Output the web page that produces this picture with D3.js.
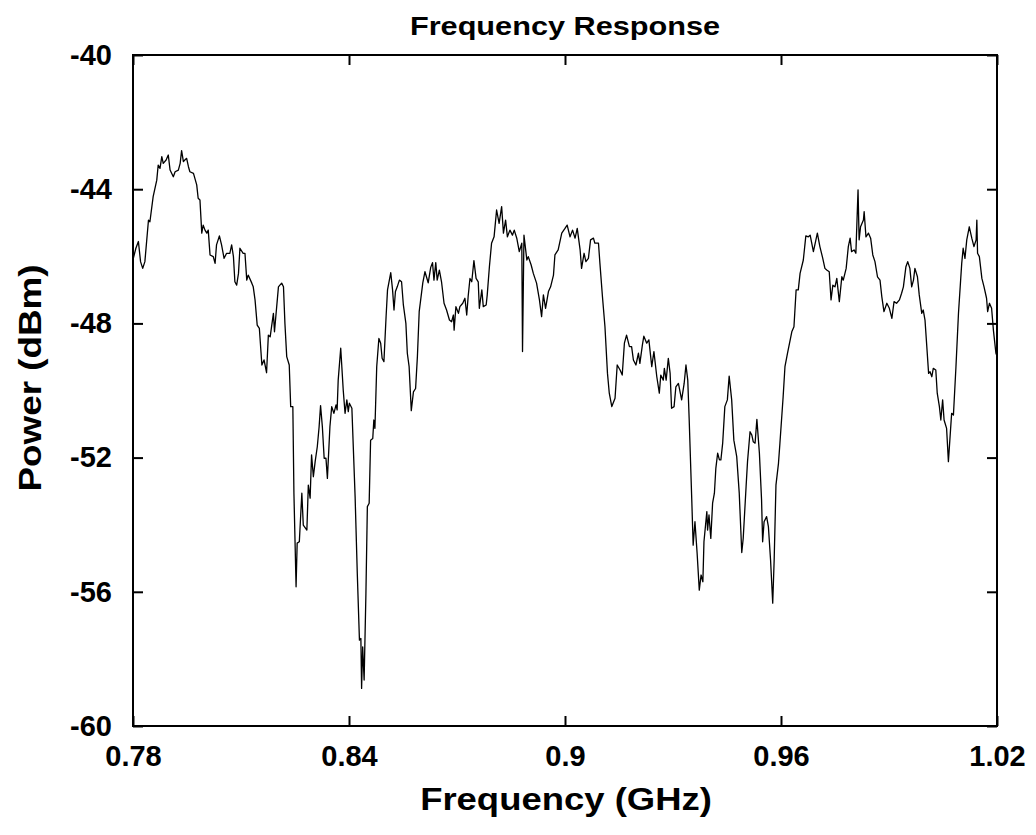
<!DOCTYPE html>
<html>
<head>
<meta charset="utf-8">
<script src="https://cdn.jsdelivr.net/npm/d3@7"></script>
<style>
  body { margin: 0; background: #fff; }
  text { font-family: "Liberation Sans", Arial, sans-serif; font-weight: bold; fill: #000; }
</style>
</head>
<body>
<div id="chart"></div>
<script>
// data (GHz, dBm)
const freqGHz = [
  0.7800, 0.7808, 0.7815, 0.7821, 0.7827, 0.7833, 0.7843, 0.7847, 0.7856, 0.7866,
  0.7870, 0.7875, 0.7880, 0.7884, 0.7892, 0.7898, 0.7903, 0.7912, 0.7917, 0.7926,
  0.7931, 0.7935, 0.7940, 0.7944, 0.7949, 0.7954, 0.7958, 0.7968, 0.7977, 0.7981,
  0.7986, 0.7991, 0.7995, 0.8000, 0.8005, 0.8009, 0.8014, 0.8023, 0.8028, 0.8032,
  0.8040, 0.8046, 0.8053, 0.8060, 0.8069, 0.8074, 0.8079, 0.8083, 0.8088, 0.8093,
  0.8097, 0.8106, 0.8111, 0.8116, 0.8120, 0.8130, 0.8134, 0.8139, 0.8145, 0.8151,
  0.8158, 0.8164, 0.8171, 0.8176, 0.8181, 0.8190, 0.8193, 0.8204, 0.8208, 0.8213,
  0.8218, 0.8222, 0.8227, 0.8234, 0.8238, 0.8244, 0.8247, 0.8253, 0.8256, 0.8262,
  0.8269, 0.8273, 0.8283, 0.8287, 0.8292, 0.8296, 0.8301, 0.8306, 0.8312, 0.8317,
  0.8321, 0.8326, 0.8331, 0.8336, 0.8340, 0.8347, 0.8352, 0.8358, 0.8364, 0.8367,
  0.8370, 0.8377, 0.8384, 0.8389, 0.8394, 0.8398, 0.8401, 0.8408, 0.8417, 0.8423,
  0.8429, 0.8433, 0.8435, 0.8438, 0.8442, 0.8447, 0.8451, 0.8456, 0.8460, 0.8466,
  0.8469, 0.8472, 0.8477, 0.8483, 0.8488, 0.8492, 0.8497, 0.8503, 0.8507, 0.8516,
  0.8521, 0.8525, 0.8529, 0.8534, 0.8540, 0.8546, 0.8551, 0.8558, 0.8562, 0.8567,
  0.8573, 0.8579, 0.8585, 0.8590, 0.8595, 0.8605, 0.8611, 0.8620, 0.8627, 0.8632,
  0.8636, 0.8641, 0.8645, 0.8651, 0.8657, 0.8664, 0.8671, 0.8679, 0.8685, 0.8690,
  0.8692, 0.8697, 0.8704, 0.8708, 0.8716, 0.8722, 0.8727, 0.8731, 0.8736, 0.8741,
  0.8747, 0.8753, 0.8759, 0.8762, 0.8769, 0.8773, 0.8781, 0.8784, 0.8790, 0.8796,
  0.8803, 0.8810, 0.8817, 0.8824, 0.8829, 0.8835, 0.8840, 0.8847, 0.8854, 0.8859,
  0.8866, 0.8873, 0.8880, 0.8882, 0.8886, 0.8894, 0.8898, 0.8906, 0.8912, 0.8921,
  0.8929, 0.8935, 0.8940, 0.8946, 0.8954, 0.8960, 0.8968, 0.8972, 0.8981, 0.8991,
  0.9000, 0.9006, 0.9014, 0.9021, 0.9028, 0.9034, 0.9042, 0.9046, 0.9053, 0.9058,
  0.9065, 0.9071, 0.9079, 0.9083, 0.9093, 0.9097, 0.9104, 0.9111, 0.9118, 0.9123,
  0.9130, 0.9139, 0.9145, 0.9153, 0.9159, 0.9165, 0.9171, 0.9179, 0.9185, 0.9190,
  0.9197, 0.9204, 0.9208, 0.9215, 0.9219, 0.9227, 0.9233, 0.9241, 0.9247, 0.9255,
  0.9262, 0.9266, 0.9273, 0.9276, 0.9281, 0.9287, 0.9292, 0.9296, 0.9303, 0.9308,
  0.9315, 0.9324, 0.9331, 0.9336, 0.9341, 0.9345, 0.9352, 0.9356, 0.9361, 0.9367,
  0.9373, 0.9378, 0.9383, 0.9386, 0.9394, 0.9396, 0.9400, 0.9405, 0.9410, 0.9415,
  0.9419, 0.9424, 0.9429, 0.9433, 0.9438, 0.9444, 0.9451, 0.9456, 0.9463, 0.9469,
  0.9477, 0.9484, 0.9491, 0.9495, 0.9503, 0.9507, 0.9514, 0.9519, 0.9523, 0.9528,
  0.9533, 0.9540, 0.9546, 0.9549, 0.9553, 0.9560, 0.9565, 0.9571, 0.9577, 0.9581,
  0.9586, 0.9593, 0.9597, 0.9606, 0.9611, 0.9618, 0.9630, 0.9636, 0.9642, 0.9648,
  0.9653, 0.9662, 0.9669, 0.9676, 0.9681, 0.9690, 0.9701, 0.9708, 0.9716, 0.9722,
  0.9727, 0.9734, 0.9739, 0.9744, 0.9750, 0.9755, 0.9762, 0.9769, 0.9773, 0.9781,
  0.9787, 0.9792, 0.9796, 0.9803, 0.9808, 0.9814, 0.9817, 0.9821, 0.9829, 0.9831,
  0.9836, 0.9843, 0.9849, 0.9855, 0.9861, 0.9868, 0.9875, 0.9880, 0.9886, 0.9894,
  0.9901, 0.9908, 0.9914, 0.9921, 0.9929, 0.9935, 0.9940, 0.9947, 0.9952, 0.9958,
  0.9963, 0.9968, 0.9972, 0.9979, 0.9984, 0.9991, 0.9995, 1.0000, 1.0005, 1.0010,
  1.0014, 1.0019, 1.0023, 1.0030, 1.0034, 1.0040, 1.0044, 1.0049, 1.0053, 1.0060,
  1.0065, 1.0069, 1.0074, 1.0079, 1.0086, 1.0093, 1.0102, 1.0106, 1.0111, 1.0116,
  1.0123, 1.0130, 1.0136, 1.0142, 1.0144, 1.0146, 1.0151, 1.0158, 1.0164, 1.0171,
  1.0174, 1.0179, 1.0185, 1.0190, 1.0197, 1.0200
];

const powerDbm = [
  -46.10, -45.76, -45.56, -46.16, -46.36, -46.16, -44.92, -44.97, -44.22, -43.73,
  -43.28, -43.38, -43.03, -43.23, -43.13, -42.98, -43.43, -43.63, -43.48, -43.43,
  -43.23, -42.85, -43.18, -43.13, -43.08, -43.33, -43.48, -43.53, -43.87, -44.27,
  -44.32, -45.31, -45.07, -45.22, -45.31, -45.22, -45.96, -46.01, -46.21, -45.66,
  -45.39, -45.66, -46.06, -45.91, -45.91, -45.66, -46.01, -46.76, -46.86, -46.51,
  -45.76, -45.91, -45.91, -46.71, -46.56, -46.80, -46.91, -47.30, -48.05, -48.15,
  -49.24, -49.09, -49.47, -48.35, -48.40, -47.70, -48.25, -46.91, -46.86, -46.80,
  -46.91, -48.00, -48.99, -49.24, -50.48, -50.48, -53.06, -55.85, -54.55, -54.51,
  -53.06, -54.01, -54.16, -52.82, -53.21, -51.92, -52.57, -52.12, -51.67, -51.08,
  -50.45, -51.08, -52.02, -52.02, -52.62, -51.08, -50.48, -50.68, -50.43, -50.58,
  -49.69, -48.74, -49.99, -50.68, -50.28, -50.63, -50.38, -50.53, -53.17, -55.45,
  -57.44, -57.39, -58.88, -57.64, -58.63, -56.05, -53.46, -53.36, -51.48, -51.43,
  -50.88, -51.13, -49.29, -48.45, -48.59, -49.04, -49.14, -47.80, -47.00, -46.49,
  -47.00, -47.60, -47.05, -46.91, -46.71, -46.76, -47.45, -48.00, -48.89, -49.29,
  -50.60, -50.04, -49.94, -48.99, -47.65, -46.79, -46.46, -46.79, -46.33, -46.19,
  -46.71, -46.19, -46.71, -46.41, -46.76, -47.40, -47.60, -47.90, -47.95, -47.75,
  -48.20, -47.50, -47.70, -47.50, -47.40, -47.25, -47.75, -47.20, -46.66, -46.76,
  -46.13, -46.66, -46.76, -47.55, -47.00, -47.50, -47.45, -47.15, -46.31, -45.61,
  -45.42, -44.62, -45.02, -44.52, -45.31, -44.92, -45.42, -45.22, -45.37, -45.22,
  -45.46, -45.86, -45.61, -48.84, -45.37, -46.11, -46.01, -46.26, -46.51, -46.80,
  -47.30, -47.80, -47.15, -47.55, -47.05, -46.91, -46.56, -45.96, -45.81, -45.31,
  -45.17, -45.07, -45.42, -45.22, -45.46, -45.17, -45.81, -46.36, -45.91, -46.16,
  -46.06, -45.51, -45.46, -45.61, -45.61, -46.21, -47.20, -48.10, -49.49, -50.08,
  -50.48, -50.23, -49.24, -49.39, -49.54, -48.59, -48.35, -48.69, -48.69, -49.09,
  -49.24, -48.89, -49.19, -48.64, -48.38, -48.59, -48.49, -49.29, -48.84, -49.59,
  -50.08, -49.54, -49.69, -49.34, -49.69, -49.04, -49.49, -50.53, -50.48, -49.89,
  -49.79, -50.28, -49.79, -49.24, -49.69, -50.88, -53.21, -54.61, -53.91, -54.85,
  -55.95, -55.50, -55.70, -54.51, -53.61, -54.16, -53.71, -54.41, -53.36, -53.06,
  -52.32, -51.87, -52.07, -52.07, -51.57, -50.48, -50.28, -49.57, -50.28, -51.48,
  -51.97, -53.06, -54.83, -54.41, -52.87, -52.12, -51.23, -51.33, -51.53, -51.57,
  -50.86, -51.87, -53.26, -54.51, -53.91, -53.76, -54.06, -55.05, -56.34, -55.05,
  -52.82, -52.17, -51.57, -50.18, -49.29, -48.89, -48.25, -48.10, -47.00, -47.00,
  -46.51, -46.11, -45.39, -45.42, -45.37, -45.86, -45.31, -45.71, -46.06, -46.36,
  -46.41, -46.46, -47.30, -46.86, -46.91, -46.66, -47.35, -46.61, -46.71, -46.36,
  -45.71, -45.46, -45.86, -45.81, -45.91, -44.02, -45.51, -45.12, -44.92, -44.67,
  -45.42, -45.31, -45.46, -45.96, -46.16, -46.61, -46.71, -47.20, -47.65, -47.40,
  -47.55, -47.85, -47.35, -47.40, -47.30, -47.10, -46.91, -46.31, -46.16, -46.36,
  -46.91, -46.71, -46.36, -46.61, -47.15, -47.70, -47.60, -47.90, -48.69, -49.49,
  -49.44, -49.59, -49.34, -49.39, -50.08, -50.48, -50.88, -50.28, -50.88, -51.13,
  -52.12, -51.48, -50.68, -50.73, -49.29, -47.70, -46.21, -45.76, -46.06, -45.51,
  -45.12, -45.46, -45.71, -45.51, -44.92, -45.91, -46.01, -46.66, -46.91, -47.25,
  -47.65, -47.40, -47.55, -48.20, -48.89, -48.97
];

const xTicks = [0.78, 0.84, 0.9, 0.96, 1.02];
const yTicks = [-60, -56, -52, -48, -44, -40];
const xDomain = [0.78, 1.02];
const yDomain = [-60, -40];

const chartTitle = "Frequency Response";
const xLabel = "Frequency (GHz)";
const yLabel = "Power (dBm)";

function drawChart() {
    let win_width = 1036;
    let win_height = 835;
    let margin = {top: 55, right: 39, bottom: 109, left: 133};
    let width = win_width - margin.left - margin.right;
    let height = win_height - margin.top - margin.bottom;

    let svg = d3.select("#chart")
        .append("svg")
        .attr("width", win_width)
        .attr("height", win_height);

    let g = svg.append("g")
        .attr("transform", "translate(" + margin.left + "," + margin.top + ")");

    let x = d3.scaleLinear().domain(xDomain).range([0, width]);
    let y = d3.scaleLinear().domain(yDomain).range([height, 0]);

    // plain hyphen minus, like the original
    let fmt = d => String(d);

    // bottom axis with labels, ticks pointing inward
    let xb = g.append("g")
        .attr("transform", "translate(0," + height + ")")
        .call(d3.axisBottom(x).tickValues(xTicks).tickSize(-10).tickSizeOuter(0).tickPadding(19).tickFormat(fmt));
    // top axis, ticks only
    let xt = g.append("g")
        .call(d3.axisTop(x).tickValues(xTicks).tickSize(-10).tickSizeOuter(0).tickFormat(""));
    // left axis with labels
    let yl = g.append("g")
        .call(d3.axisLeft(y).tickValues(yTicks).tickSize(-10).tickSizeOuter(0).tickPadding(21).tickFormat(fmt));
    // right axis, ticks only
    let yr = g.append("g")
        .attr("transform", "translate(" + width + ",0)")
        .call(d3.axisRight(y).tickValues(yTicks).tickSize(-10).tickSizeOuter(0).tickFormat(""));

    [xb, xt, yl, yr].forEach(a => {
        a.select(".domain").remove();
        a.selectAll(".tick line").attr("stroke", "#000").attr("stroke-width", 2);
        a.selectAll(".tick text")
            .style("font-family", "'Liberation Sans', Arial, sans-serif")
            .style("font-weight", "bold")
            .style("font-size", "29px")
            .attr("fill", "#000");
    });

    // trace
    let points = freqGHz.map((f, i) => ({f: f, p: powerDbm[i]}));
    g.append("path")
        .datum(points)
        .attr("fill", "none")
        .attr("stroke", "#000")
        .attr("stroke-width", 1.3)
        .attr("stroke-linejoin", "round")
        .attr("d", d3.line().x(d => x(d.f)).y(d => y(d.p)));

    // frame
    g.append("rect")
        .attr("x", 0).attr("y", 0)
        .attr("width", width).attr("height", height)
        .attr("fill", "none")
        .attr("stroke", "#000")
        .attr("stroke-width", 2);

    // title and axis labels (the original's lettering is a little wide)
    svg.append("text")
        .attr("transform", "translate(565,35) scale(1.18,1)")
        .attr("text-anchor", "middle")
        .style("font-size", "26px")
        .text(chartTitle);

    svg.append("text")
        .attr("transform", "translate(566,810) scale(1.14,1)")
        .attr("text-anchor", "middle")
        .style("font-size", "32px")
        .text(xLabel);

    svg.append("text")
        .attr("transform", "translate(41,378) rotate(-90) scale(1.15,1)")
        .attr("text-anchor", "middle")
        .style("font-size", "32px")
        .text(yLabel);
}

drawChart();
</script>
</body>
</html>
